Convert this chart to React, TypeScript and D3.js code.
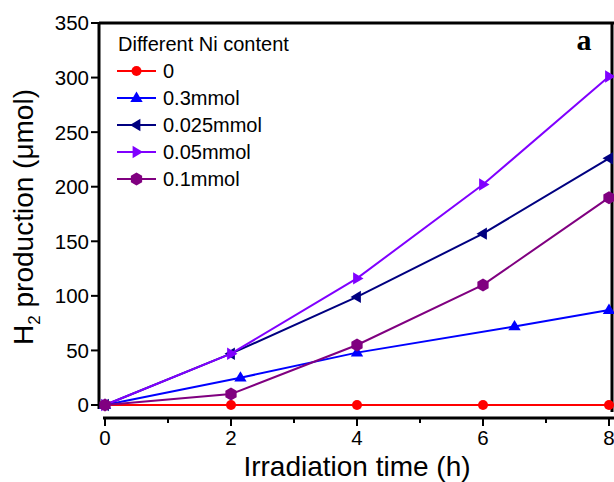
import React from "react";
import * as d3 from "d3";

const seriesNames = ["0", "0.3mmol", "0.025mmol", "0.05mmol", "0.1mmol"];
const seriesColors = ["#FF0000", "#0000FF", "#000080", "#8000FF", "#800080"];
const seriesMarkers = ["circle", "triangleUp", "triangleLeft", "triangleRight", "hexagon"];
const xs0 = [0, 2, 4, 6, 8];
const ys0 = [0, 0, 0, 0, 0];
const xs03 = [0, 2.15, 4, 6.5, 8];
const ys03 = [0, 25, 48, 72, 87];
const xs0025 = [0, 2, 4, 6, 8];
const ys0025 = [0, 47, 99, 157, 226];
const xs005 = [0, 2, 4, 6, 8];
const ys005 = [0, 47, 116, 202, 301];
const xs01 = [0, 2, 4, 6, 8];
const ys01 = [0, 10, 55, 110, 190];
const xTicks = [0, 2, 4, 6, 8];
const xMinorTicks = [1, 3, 5, 7];
const yTicks = [0, 50, 100, 150, 200, 250, 300, 350];

const W = 614;
const H = 482;
const FONT = "'Liberation Sans', Arial, sans-serif";

function markerPath(kind: string, cx: number, cy: number): string {
  const r = 6.5;
  let pts: [number, number][] = [];
  if (kind === "triangleUp") pts = [[0, -r], [r * 0.95, r * 0.6], [-r * 0.95, r * 0.6]];
  if (kind === "triangleLeft") pts = [[-r, 0], [r * 0.6, -r * 0.95], [r * 0.6, r * 0.95]];
  if (kind === "triangleRight") pts = [[r, 0], [-r * 0.6, -r * 0.95], [-r * 0.6, r * 0.95]];
  if (kind === "hexagon") {
    pts = d3.range(6).map((i) => {
      const a = (Math.PI / 3) * i + Math.PI / 6;
      return [6.5 * Math.cos(a), 6.5 * Math.sin(a)] as [number, number];
    });
  }
  return "M" + pts.map((p) => `${cx + p[0]},${cy + p[1]}`).join("L") + "Z";
}

function Marker({ kind, cx, cy, color }: { kind: string; cx: number; cy: number; color: string }) {
  if (kind === "circle") return <circle cx={cx} cy={cy} r={5} fill={color} />;
  return <path d={markerPath(kind, cx, cy)} fill={color} />;
}

export default function App() {
  const x = d3.scaleLinear().domain([0, 8]).range([105, 609]);
  const y = d3.scaleLinear().domain([0, 350]).range([405, 23]);
  const data = [
    xs0.map((v, i) => [v, ys0[i]]),
    xs03.map((v, i) => [v, ys03[i]]),
    xs0025.map((v, i) => [v, ys0025[i]]),
    xs005.map((v, i) => [v, ys005[i]]),
    xs01.map((v, i) => [v, ys01[i]]),
  ] as [number, number][][];
  const line = d3
    .line<[number, number]>()
    .x((d) => x(d[0]))
    .y((d) => y(d[1]));
  const axisX = 99;
  const axisY = 418;
  const legendX = 117;
  const legendY0 = 71;
  const legendDy = 27;

  return (
    <div style={{ position: "absolute", left: 0, top: 0, width: W, height: H, background: "#fff" }}>
      <svg width={W} height={H} style={{ display: "block" }}>
        <rect width={W} height={H} fill="#fff" />
        {/* frame */}
        <line x1={axisX} y1={23} x2={W} y2={23} stroke="#000" strokeWidth={3} />
        <line x1={612} y1={22} x2={612} y2={412} stroke="#000" strokeWidth={3} />
        <line x1={axisX} y1={22} x2={axisX} y2={409} stroke="#000" strokeWidth={3} />
        <line x1={103} y1={axisY} x2={W} y2={axisY} stroke="#000" strokeWidth={3} />
        {/* y ticks */}
        {yTicks.map((t) => (
          <g key={"y" + t}>
            <line x1={axisX - 8} y1={y(t)} x2={axisX} y2={y(t)} stroke="#000" strokeWidth={2} />
            <text x={axisX - 10} y={y(t)} dy="0.36em" textAnchor="end" fontFamily={FONT} fontSize={20.5}>
              {t}
            </text>
          </g>
        ))}
        {/* x ticks */}
        {xTicks.map((t) => (
          <g key={"x" + t}>
            <line x1={x(t)} y1={axisY} x2={x(t)} y2={axisY + 8} stroke="#000" strokeWidth={2} />
            <text x={x(t)} y={axisY + 27} textAnchor="middle" fontFamily={FONT} fontSize={20.5}>
              {t}
            </text>
          </g>
        ))}
        {xMinorTicks.map((t) => (
          <line key={"m" + t} x1={x(t)} y1={axisY} x2={x(t)} y2={axisY + 5} stroke="#000" strokeWidth={2} />
        ))}
        {/* axis titles */}
        <text x={357} y={475.5} textAnchor="middle" fontFamily={FONT} fontSize={28}>
          Irradiation time (h)
        </text>
        <text
          transform="translate(33,217) rotate(-90)"
          textAnchor="middle"
          fontFamily={FONT}
          fontSize={28}
        >
          H<tspan fontSize={17} dy={7}>2</tspan>
          <tspan dy={-7}> production (μmol)</tspan>
        </text>
        {/* series */}
        {data.map((d, i) => (
          <g key={"s" + i}>
            <path d={line(d) || ""} fill="none" stroke={seriesColors[i]} strokeWidth={2} />
            {d.map((p, j) => (
              <Marker key={j} kind={seriesMarkers[i]} cx={x(p[0])} cy={y(p[1])} color={seriesColors[i]} />
            ))}
          </g>
        ))}
        {/* legend */}
        <text x={118} y={51} fontFamily={FONT} fontSize={20}>
          Different Ni content
        </text>
        {seriesNames.map((n, i) => {
          const ly = legendY0 + i * legendDy;
          return (
            <g key={"l" + i}>
              <line x1={legendX} y1={ly} x2={legendX + 39} y2={ly} stroke={seriesColors[i]} strokeWidth={2} />
              <Marker kind={seriesMarkers[i]} cx={legendX + 19.5} cy={ly} color={seriesColors[i]} />
              <text x={163} y={ly} dy="0.36em" fontFamily={FONT} fontSize={20}>
                {n}
              </text>
            </g>
          );
        })}
        <text x={584} y={50} textAnchor="middle" fontFamily="'Liberation Serif', 'Times New Roman', serif" fontWeight="bold" fontSize={30}>
          a
        </text>
      </svg>
    </div>
  );
}
